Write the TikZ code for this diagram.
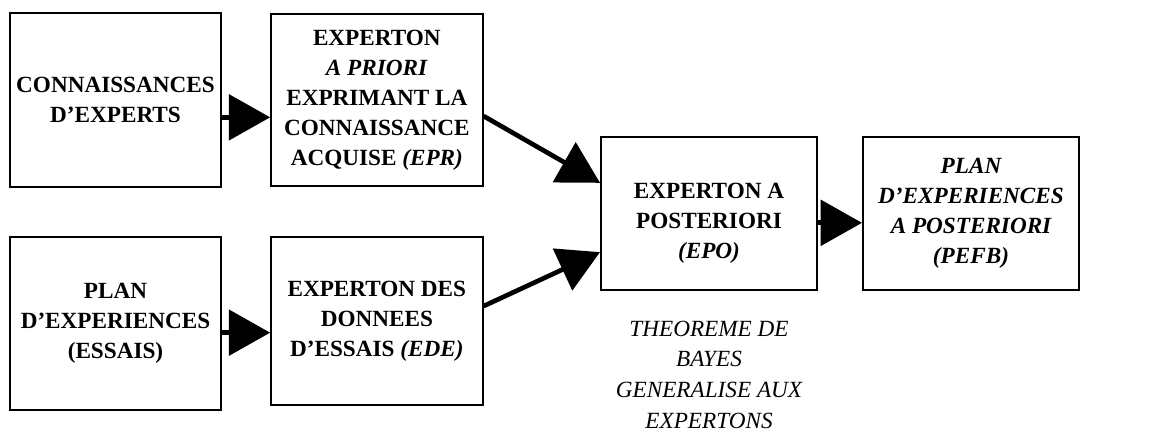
\documentclass[tikz,border=0pt]{standalone}
\usepackage{fontspec}
\setmainfont{Liberation Serif}
\usepackage{tikz}
\usetikzlibrary{arrows.meta,positioning}

\begin{document}
\begin{tikzpicture}[%
    x=0.75pt, y=-0.75pt,          % work on the pixel grid of the figure
    >={Triangle[length=31pt,width=34pt]},
    node distance=36pt and 36pt,  % spacing of the boxes
    ]

\tikzset{
  base/.style={draw, line width=1.5pt, align=center, inner sep=2pt,
    font={\fontsize{17.4}{22.5}\selectfont\bfseries}},
  bloc/.style={base, rectangle, minimum width=158.5pt, minimum height=129pt},
  bayes/.style={base, rectangle, minimum width=162pt, minimum height=115pt},
  note/.style={align=center, inner sep=0pt,
    font={\fontsize{17.4}{23}\selectfont\itshape}},
  % arrows between the boxes
  flow/.style={->, draw, line width=3.5pt}
}

  \useasboundingbox (0,0) rectangle (1151,434);

  \node[bloc, minimum height=130pt] (know) at (115.5,100) {CONNAISSANCES\\D’EXPERTS};
  \node[bloc, right=of know] (prior) {EXPERTON\\\textit{A PRIORI}\\EXPRIMANT LA\\CONNAISSANCE\\ACQUISE \textit{(EPR)}};

  \node[bloc, minimum height=130pt, below=of know] (plan) {PLAN\\D’EXPERIENCES\\(ESSAIS)};
  \node[bloc, minimum height=126pt, right=of plan, yshift=1.9pt] (data) {EXPERTON DES\\DONNEES\\D’ESSAIS \textit{(EDE)}};

  % empty first line pushes the text down in the box
  \node[bayes] (post) at (709,213.5) {\mbox{}\\[4pt]EXPERTON A\\POSTERIORI\\\textit{(EPO)}};
  \node[bayes, right=33pt of post, font={\fontsize{17.4}{22.5}\selectfont\bfseries\itshape}] (pefb) {PLAN\\D’EXPERIENCES\\A POSTERIORI\\(PEFB)};

  \node[note, below=22pt of post] (theo) {THEOREME DE\\BAYES\\GENERALISE AUX\\EXPERTONS};

  \draw[flow] ([yshift=-13pt]know.east) -- ([yshift=-13pt]know.east -| prior.west);
  \draw[flow] ([yshift=-7pt]plan.east) -- ([yshift=-7pt]plan.east -| data.west);
  \draw[flow] ([yshift=-12pt]prior.east) -- ([yshift=23pt]post.west);
  \draw[flow] ([yshift=11pt]data.east) -- ([yshift=-29pt]post.west);
  \draw[flow] ([yshift=-7pt]post.east) -- ([yshift=-7pt]post.east -| pefb.west);
\end{tikzpicture}
\end{document}
